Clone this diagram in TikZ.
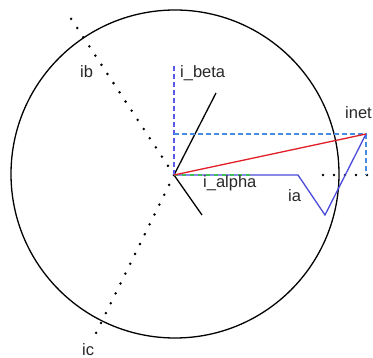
\documentclass[tikz,border=0pt]{standalone}
\usepackage{fontspec}
\setmainfont{Liberation Sans}
\begin{document}
\begin{tikzpicture}[x=1pt,y=-1pt,
  lbl/.style={anchor=base west, inner sep=0pt, text={rgb,255:red,40;green,40;blue,40}, font=\fontsize{16.5}{19}\selectfont},
  dotline/.style={line width=2.8pt, line cap=round, dash pattern=on 0pt off 11pt},
  bdash/.style={line width=1.3pt, dash pattern=on 5pt off 3pt}]
\useasboundingbox (0,0) rectangle (373,358);
\fill[white] (0,0) rectangle (373,358);
\coordinate (O) at (174,175);
\coordinate (C) at (175,174);
\coordinate (B) at (174,64);
\coordinate (N) at (366,134);
\coordinate (NB) at (174,134);
\coordinate (NA) at (366,175);
\coordinate (A1) at (298,175);
\coordinate (A2) at (325,215);
\coordinate (Lu) at (216,93);
\coordinate (Ld) at (202,215);
\coordinate (IBe) at (66,11);
\coordinate (ICe) at (96,333);
\coordinate (D1) at (313,175);
\coordinate (D2) at (367,175);
\coordinate (G) at (250,175);
% circle
\draw[line width=1.3pt] (C) circle (164);
% dotted axes
\draw[dotline] (O) -- (IBe);
\draw[dotline] (O) -- (ICe);
\draw[dotline] (D2) -- (D1);
% black lines
\draw[line width=1.3pt] (O) -- (Lu);
\draw[line width=1.3pt] (O) -- (Ld);
% dashed projections
\draw[bdash, color={rgb,255:red,90;green,90;blue,240}] (O) -- (B);
\draw[bdash, color={rgb,255:red,70;green,140;blue,225}] (NB) -- (N) -- (NA);
% ia path
\draw[line width=1.3pt, color={rgb,255:red,75;green,75;blue,220}] (O) -- (A1) -- (A2) -- (N);
\draw[line width=1.3pt, color={rgb,255:red,60;green,190;blue,90}, dash pattern=on 4pt off 4pt] (O) -- (G);
% net vector
\draw[line width=1.3pt, color={rgb,255:red,225;green,30;blue,40}] (O) -- (N);
% labels
\node[lbl] (tb) at (180,78) {i\_beta};
\node[lbl] (ta) at (203,188) {i\_alpha};
\node[lbl] (tia) at (288,202) {ia};
\node[lbl] (tib) at (80,78) {ib};
\node[lbl] (tic) at (82,356) {ic};
\node[lbl] (tn) at (345,119) {inet};
\end{tikzpicture}
\end{document}
